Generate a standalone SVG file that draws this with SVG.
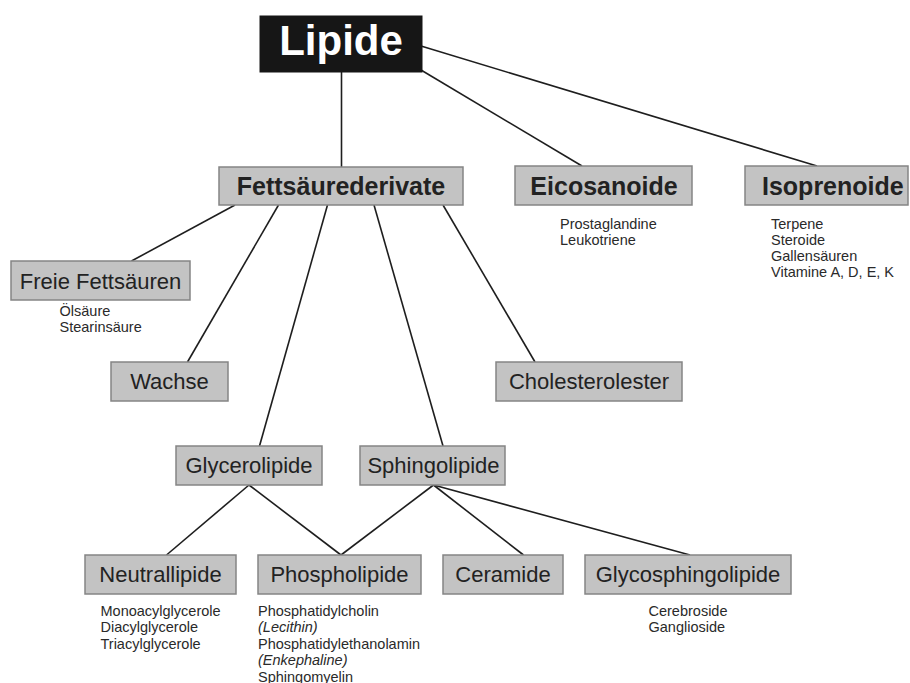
<svg xmlns="http://www.w3.org/2000/svg" width="910" height="683" viewBox="0 0 910 683">
<style>
  .bg { fill: #ffffff; }
  .box { fill: #c3c3c3; stroke: #858585; stroke-width: 1.5; }
  .root { fill: #161616; stroke: #161616; stroke-width: 1; }
  .lbl { font-family: "Liberation Sans", Arial, sans-serif; font-size: 22px; fill: #222222; text-anchor: middle; }
  .blbl { font-family: "Liberation Sans", Arial, sans-serif; font-size: 25px; font-weight: bold; fill: #222222; text-anchor: middle; }
  .rlbl { font-family: "Liberation Sans", Arial, sans-serif; font-size: 42px; font-weight: bold; fill: #ffffff; text-anchor: middle; }
  .sm { font-family: "Liberation Sans", Arial, sans-serif; font-size: 14.5px; fill: #2a2a2a; }
  .it { font-style: italic; }
  .conn line { stroke: #1e1e1e; stroke-width: 1.6; fill: none; }
</style>
<rect class="bg" x="0" y="0" width="910" height="683"/>

<g id="connectors" class="conn">
  <line x1="341.5" y1="72" x2="341.5" y2="167"/>
  <line x1="421" y1="70" x2="582" y2="166"/>
  <line x1="421" y1="46" x2="817" y2="166"/>
  <line x1="235" y1="205" x2="131.5" y2="261"/>
  <line x1="278.5" y1="205" x2="187.5" y2="362"/>
  <line x1="327.5" y1="205" x2="259.5" y2="446"/>
  <line x1="374" y1="205" x2="443" y2="446"/>
  <line x1="443" y1="205" x2="535" y2="362"/>
  <line x1="249" y1="485" x2="166.5" y2="555"/>
  <line x1="249" y1="485" x2="341" y2="555"/>
  <line x1="433.5" y1="485" x2="341" y2="555"/>
  <line x1="433.5" y1="485" x2="523.5" y2="555"/>
  <line x1="433.5" y1="485" x2="690" y2="555"/>
</g>

<g id="lipide">
  <rect class="root" x="260" y="16" width="162" height="56"/>
  <text class="rlbl" x="341" y="55">Lipide</text>
</g>

<g id="fettsaeurederivate">
  <rect class="box" x="219" y="167" width="244" height="38"/>
  <text class="blbl" x="341" y="195">Fettsäurederivate</text>
</g>

<g id="eicosanoide">
  <rect class="box" x="515" y="166" width="177" height="39"/>
  <text class="blbl" x="604" y="195">Eicosanoide</text>
  <text class="sm" x="560" y="229">Prostaglandine</text>
  <text class="sm" x="560" y="245">Leukotriene</text>
</g>

<g id="isoprenoide">
  <rect class="box" x="745" y="166" width="163" height="39"/>
  <text class="blbl" x="762" y="195" style="text-anchor:start">Isoprenoide</text>
  <text class="sm" x="771" y="229">Terpene</text>
  <text class="sm" x="771" y="245">Steroide</text>
  <text class="sm" x="771" y="261">Gallensäuren</text>
  <text class="sm" x="771" y="277">Vitamine A, D, E, K</text>
</g>

<g id="freie-fettsaeuren">
  <rect class="box" x="11" y="261" width="179" height="39"/>
  <text class="lbl" x="100.5" y="288.5">Freie Fettsäuren</text>
  <text class="sm" x="59.5" y="316">Ölsäure</text>
  <text class="sm" x="59.5" y="332">Stearinsäure</text>
</g>

<g id="wachse">
  <rect class="box" x="111" y="362" width="117" height="39"/>
  <text class="lbl" x="169.5" y="389">Wachse</text>
</g>

<g id="cholesterolester">
  <rect class="box" x="496" y="362" width="186" height="39"/>
  <text class="lbl" x="589" y="389">Cholesterolester</text>
</g>

<g id="glycerolipide">
  <rect class="box" x="176" y="446" width="146" height="39"/>
  <text class="lbl" x="249" y="472.5">Glycerolipide</text>
</g>

<g id="sphingolipide">
  <rect class="box" x="360" y="446" width="145" height="39"/>
  <text class="lbl" x="433.5" y="472.5">Sphingolipide</text>
</g>

<g id="neutrallipide">
  <rect class="box" x="85" y="555" width="151" height="39"/>
  <text class="lbl" x="160.5" y="581.5">Neutrallipide</text>
  <text class="sm" x="100.5" y="615.5">Monoacylglycerole</text>
  <text class="sm" x="100.5" y="632">Diacylglycerole</text>
  <text class="sm" x="100.5" y="648.5">Triacylglycerole</text>
</g>

<g id="phospholipide">
  <rect class="box" x="258" y="555" width="163" height="39"/>
  <text class="lbl" x="339.5" y="581.5">Phospholipide</text>
  <text class="sm" x="258" y="615.5">Phosphatidylcholin</text>
  <text class="sm it" x="258" y="632">(Lecithin)</text>
  <text class="sm" x="258" y="648.5">Phosphatidylethanolamin</text>
  <text class="sm it" x="258" y="665">(Enkephaline)</text>
  <text class="sm" x="258" y="681.5">Sphingomyelin</text>
</g>

<g id="ceramide">
  <rect class="box" x="443" y="555" width="120" height="39"/>
  <text class="lbl" x="503" y="581.5">Ceramide</text>
</g>

<g id="glycosphingolipide">
  <rect class="box" x="585" y="555" width="206" height="39"/>
  <text class="lbl" x="688" y="581.5">Glycosphingolipide</text>
  <text class="sm" x="648.5" y="615.5">Cerebroside</text>
  <text class="sm" x="648.5" y="632">Ganglioside</text>
</g>
</svg>
